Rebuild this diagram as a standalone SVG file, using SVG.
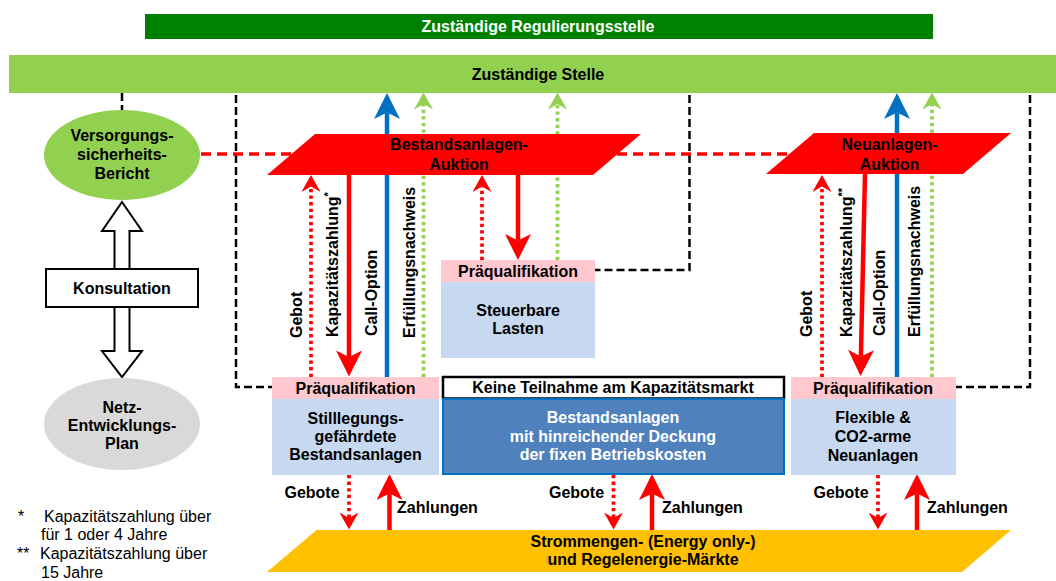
<svg xmlns="http://www.w3.org/2000/svg" width="1056" height="581" viewBox="0 0 1056 581">
<style>
text { font-family: "Liberation Sans", Arial, sans-serif; font-size: 16px; font-weight: bold; fill: #000; }
.c { text-anchor: middle; }
.w { fill: #fff; }
.n { font-weight: normal; }
.sup { font-size: 11px; }
.rs { stroke: #FF0000; stroke-width: 4.5; fill: none; }
.bs { stroke: #0070C0; stroke-width: 4.5; fill: none; }
.rd { stroke: #FF0000; stroke-width: 3.7; stroke-dasharray: 3.3 3.3; fill: none; }
.gd { stroke: #92D050; stroke-width: 3.7; stroke-dasharray: 3.3 3.3; fill: none; }
.kd { stroke: #000; stroke-width: 2.5; stroke-dasharray: 8 4; fill: none; }
.rdash { stroke: #FF0000; stroke-width: 3.5; stroke-dasharray: 10 6; fill: none; }
.hollow { fill: #fff; stroke: #000; stroke-width: 2; }
.pq { fill: #FFC7CE; }
.body { fill: #C6D9F1; }
</style>
<defs>
<marker id="hR" markerUnits="userSpaceOnUse" markerWidth="26" markerHeight="26" viewBox="0 0 26 26" refX="6.5" refY="13" orient="auto"><path d="M0,0 L26,13 L0,26 L6.5,13 Z" fill="#FF0000"/></marker>
<marker id="hB" markerUnits="userSpaceOnUse" markerWidth="26" markerHeight="26" viewBox="0 0 26 26" refX="6.5" refY="13" orient="auto"><path d="M0,0 L26,13 L0,26 L6.5,13 Z" fill="#0070C0"/></marker>
<marker id="hr" markerUnits="userSpaceOnUse" markerWidth="17" markerHeight="19" viewBox="0 0 17 19" refX="5.5" refY="9.5" orient="auto"><path d="M0,0 L17,9.5 L0,19 L5.5,9.5 Z" fill="#FF0000"/></marker>
<marker id="hg" markerUnits="userSpaceOnUse" markerWidth="17" markerHeight="19" viewBox="0 0 17 19" refX="5.5" refY="9.5" orient="auto"><path d="M0,0 L17,9.5 L0,19 L5.5,9.5 Z" fill="#92D050"/></marker>
</defs>

<g id="connectors">
  <path class="kd" d="M122,93 V110"/>
  <path class="kd" d="M236,95 V387 H272"/>
  <path class="kd" d="M689.5,95 V270 H595"/>
  <path class="kd" d="M1030,95 V387 H956"/>
  <path class="rdash" d="M201,154 H790"/>
  <polygon class="hollow" points="114.5,269 114.5,231 102,231 122,202 142,231 129.5,231 129.5,269"/>
  <polygon class="hollow" points="114.5,307 114.5,351 102,351 122,377 142,351 129.5,351 129.5,307"/>
  <!-- Bestandsanlagen group -->
  <line class="rd" x1="311" y1="377" x2="311" y2="186.5" marker-end="url(#hr)"/>
  <line class="rs" x1="349" y1="175" x2="349" y2="357" marker-end="url(#hR)"/>
  <line class="bs" x1="387" y1="377" x2="387" y2="112.5" marker-end="url(#hB)"/>
  <line class="gd" x1="423.5" y1="377" x2="423.5" y2="104" marker-end="url(#hg)"/>
  <!-- Steuerbare Lasten -->
  <line class="rd" x1="482" y1="260" x2="482" y2="186.5" marker-end="url(#hr)"/>
  <line class="rs" x1="518" y1="175" x2="518" y2="240.5" marker-end="url(#hR)"/>
  <line class="gd" x1="557.5" y1="260" x2="557.5" y2="104" marker-end="url(#hg)"/>
  <!-- Neuanlagen group -->
  <line class="rd" x1="822" y1="377" x2="822" y2="186.5" marker-end="url(#hr)"/>
  <line class="rs" x1="865" y1="174" x2="860.9" y2="356.5" marker-end="url(#hR)"/>
  <line class="bs" x1="897" y1="377" x2="897" y2="112.5" marker-end="url(#hB)"/>
  <line class="gd" x1="932" y1="377" x2="932" y2="104" marker-end="url(#hg)"/>
  <!-- market arrows -->
  <line class="rd" x1="349" y1="475" x2="349" y2="518" marker-end="url(#hr)"/>
  <line class="rs" x1="389.5" y1="530" x2="389.5" y2="493.5" marker-end="url(#hR)"/>
  <line class="rd" x1="613.5" y1="475" x2="613.5" y2="518" marker-end="url(#hr)"/>
  <line class="rs" x1="652" y1="530" x2="652" y2="493.5" marker-end="url(#hR)"/>
  <line class="rd" x1="878" y1="475" x2="878" y2="518" marker-end="url(#hr)"/>
  <line class="rs" x1="917" y1="530" x2="917" y2="493.5" marker-end="url(#hR)"/>
  <!-- labels -->
  <text transform="translate(301.5,338) rotate(-90)">Gebot</text>
  <text transform="translate(338,337) rotate(-90)">Kapazitätszahlung<tspan class="sup" dy="-6">*</tspan></text>
  <text transform="translate(376.5,336) rotate(-90)">Call-Option</text>
  <text transform="translate(415,338) rotate(-90)">Erfüllungsnachweis</text>
  <text transform="translate(811.5,337) rotate(-90)">Gebot</text>
  <text transform="translate(851.5,337) rotate(-90)">Kapazitätszahlung<tspan class="sup" dy="-6">**</tspan></text>
  <text transform="translate(885,336) rotate(-90)">Call-Option</text>
  <text transform="translate(920,337) rotate(-90)">Erfüllungsnachweis</text>
  <text class="c" x="312" y="498">Gebote</text>
  <text x="397" y="513">Zahlungen</text>
  <text class="c" x="576.5" y="498">Gebote</text>
  <text x="662" y="513">Zahlungen</text>
  <text class="c" x="841" y="498">Gebote</text>
  <text x="927" y="513">Zahlungen</text>
</g>

<g id="regulierungsstelle">
  <rect x="145" y="14" width="788" height="25" fill="#008000"/>
  <text class="c w" x="538" y="32">Zuständige Regulierungsstelle</text>
</g>
<g id="stelle">
  <rect x="9" y="55" width="1047" height="38" fill="#92D050"/>
  <text class="c" x="538" y="80">Zuständige Stelle</text>
</g>
<g id="versorgungsbericht">
  <ellipse cx="122" cy="155" rx="78" ry="45" fill="#92D050"/>
  <text class="c" x="122" y="141">Versorgungs-</text>
  <text class="c" x="122" y="160">sicherheits-</text>
  <text class="c" x="122" y="179">Bericht</text>
</g>
<g id="konsultation">
  <rect x="46" y="269" width="152" height="38" fill="#fff" stroke="#000" stroke-width="2"/>
  <text class="c" x="122" y="294">Konsultation</text>
</g>
<g id="netzentwicklungsplan">
  <ellipse cx="122" cy="424" rx="78" ry="46" fill="#D9D9D9"/>
  <text class="c" x="122" y="413">Netz-</text>
  <text class="c" x="122" y="431">Entwicklungs-</text>
  <text class="c" x="122" y="449">Plan</text>
</g>
<g id="bestandsanlagen-auktion">
  <polygon points="315,134 641,134 593,175 267,175" fill="#FF0000"/>
  <text class="c" x="459" y="150">Bestandsanlagen-</text>
  <text class="c" x="459" y="169.5">Auktion</text>
</g>
<g id="neuanlagen-auktion">
  <polygon points="814,133 1011,133 963,174 766,174" fill="#FF0000"/>
  <text class="c" x="889.5" y="150">Neuanlagen-</text>
  <text class="c" x="889.5" y="169.5">Auktion</text>
</g>
<g id="steuerbare-lasten">
  <rect class="pq" x="441" y="260" width="154" height="22"/>
  <rect class="body" x="441" y="282" width="154" height="76"/>
  <text class="c" x="518" y="277">Präqualifikation</text>
  <text class="c" x="518" y="316">Steuerbare</text>
  <text class="c" x="518" y="334">Lasten</text>
</g>
<g id="stilllegungsgefaehrdete">
  <rect class="pq" x="272" y="377" width="167" height="22"/>
  <rect class="body" x="272" y="399" width="167" height="76"/>
  <text class="c" x="355.5" y="394">Präqualifikation</text>
  <text class="c" x="355.5" y="424">Stilllegungs-</text>
  <text class="c" x="355.5" y="442">gefährdete</text>
  <text class="c" x="355.5" y="460">Bestandsanlagen</text>
</g>
<g id="keine-teilnahme">
  <rect x="443" y="377" width="341" height="21.5" fill="#fff" stroke="#000" stroke-width="2.5"/>
  <rect x="443" y="399" width="341" height="75" fill="#4F81BD" stroke="#0070C0" stroke-width="2"/>
  <text class="c" x="613" y="393">Keine Teilnahme am Kapazitätsmarkt</text>
  <text class="c w" x="613" y="423">Bestandsanlagen</text>
  <text class="c w" x="613" y="442">mit hinreichender Deckung</text>
  <text class="c w" x="613" y="460">der fixen Betriebskosten</text>
</g>
<g id="neuanlagen">
  <rect class="pq" x="791" y="377" width="165" height="22"/>
  <rect class="body" x="791" y="399" width="165" height="76"/>
  <text class="c" x="873" y="394">Präqualifikation</text>
  <text class="c" x="873" y="423">Flexible &amp;</text>
  <text class="c" x="873" y="442">CO2-arme</text>
  <text class="c" x="873" y="460.5">Neuanlagen</text>
</g>
<g id="maerkte">
  <polygon points="316.5,530 1011,530 962,572 267,572" fill="#FFC000"/>
  <text class="c" x="643" y="547">Strommengen- (Energy only-)</text>
  <text class="c" x="643" y="565">und Regelenergie-Märkte</text>
</g>
<g id="footnotes">
  <text class="n" x="18" y="522">*</text>
  <text class="n" x="44" y="522">Kapazitätszahlung über</text>
  <text class="n" x="41" y="540">für 1 oder 4 Jahre</text>
  <text class="n" x="17" y="559">**</text>
  <text class="n" x="40" y="559">Kapazitätszahlung über</text>
  <text class="n" x="41" y="578">15 Jahre</text>
</g>
</svg>
